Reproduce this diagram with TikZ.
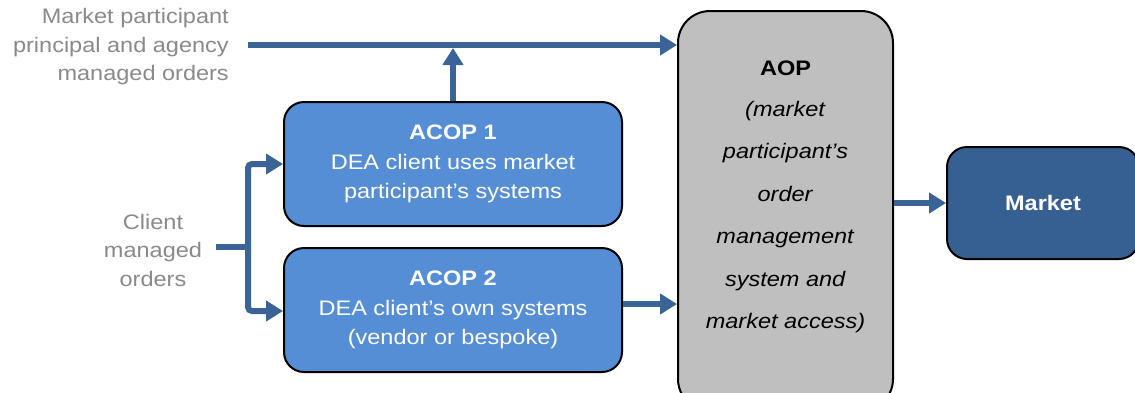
\documentclass[tikz,border=0pt]{standalone}
\usepackage{fontspec}
\setmainfont{Liberation Sans}[FakeStretch=1.12]
\usetikzlibrary{arrows.meta}
\definecolor{acopblue}{HTML}{558ED5}
\definecolor{mktblue}{HTML}{376092}
\definecolor{arrowblue}{HTML}{3A6398}
\definecolor{aopgray}{HTML}{BFBFBF}
\definecolor{txtgray}{HTML}{8A8A8A}
\tikzset{
  acopbox/.style={draw=black, line width=2pt, fill=acopblue, rounded corners=20pt,
    minimum width=338pt, minimum height=124pt, inner sep=0pt, text=white, align=center,
    font=\fontsize{21}{29.5}\selectfont},
  aopbox/.style={draw=black, line width=2pt, fill=aopgray, rounded corners=32pt,
    minimum width=215pt, minimum height=400pt, inner sep=0pt},
  mktbox/.style={draw=black, line width=2pt, fill=mktblue, rounded corners=20pt,
    minimum width=192pt, minimum height=112pt, inner sep=0pt, text=white,
    font=\fontsize{21}{29}\selectfont\bfseries},
  flow/.style={draw=arrowblue, line width=6pt, -{Triangle[length=17pt,width=20pt]}},
  flowline/.style={draw=arrowblue, line width=6pt},
  sidetext/.style={text=txtgray, font=\fontsize{21}{28.5}\selectfont, inner sep=0pt}
}
\begin{document}
\begin{tikzpicture}[x=1pt,y=-1pt]
\useasboundingbox (0,0) rectangle (1135,392);
\clip (0,0) rectangle (1135,392);
\fill[white] (0,0) rectangle (1135,392);
% boxes
\node[aopbox] (aop) at (785.5,211) {};
\node[font=\fontsize{21}{29}\selectfont, align=center, inner sep=0pt] (aoptext) at (785.5,197)
  {\textbf{AOP}\\[12pt]\textit{(market}\\[13.5pt]\textit{participant’s}\\[13.5pt]\textit{order}\\[13.5pt]\textit{management}\\[13.5pt]\textit{system and}\\[13.5pt]\textit{market access)}};
\node[acopbox] (acop1) at (453,164) {\textbf{ACOP 1}\\DEA client uses market\\participant’s systems};
\node[acopbox] (acop2) at (453,310) {\textbf{ACOP 2}\\DEA client’s own systems\\(vendor or bespoke)};
\node[mktbox] (mkt) at (1043,203) {Market};
% texts
\node[sidetext, anchor=east, align=right] (mptext) at (229,47) {Market participant\\principal and agency\\managed orders};
\node[sidetext, align=center] (cltext) at (153,250) {Client\\managed\\orders};
% coordinates
\coordinate (topstart) at (248,45);
\coordinate (topjoin) at (453,48);
\coordinate (clstart) at (216,247);
\coordinate (clbend) at (248,247);
% connectors
\draw[flow] (topstart) -- (topstart -| aop.west);
\draw[flow] (acop1.north) -- (topjoin);
\draw[flowline] (clstart) -- (clbend);
\draw[flow, rounded corners=4pt] (clbend) -- (clbend |- acop1.west) -- (acop1.west);
\draw[flow, rounded corners=4pt] (clbend) -- (248,311) -- (acop2.west |- 0,311);
\draw[flow] (acop2.east |- 0,304) -- (aop.west |- 0,304);
\draw[flow] (aop.east |- 0,203) -- (mkt.west);
\end{tikzpicture}
\end{document}
